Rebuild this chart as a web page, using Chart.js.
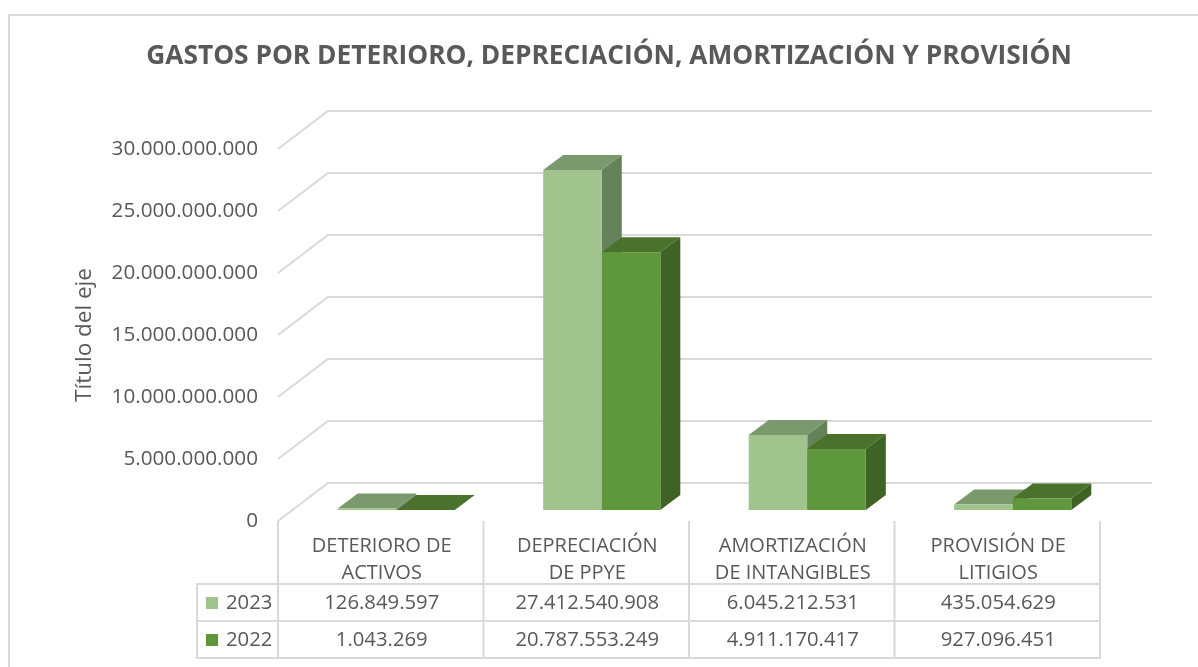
<!DOCTYPE html>
<html><head><meta charset="utf-8">
<style>html,body{margin:0;padding:0;background:#fff}#w{width:1198px;height:667px}</style>
<script src="https://cdn.jsdelivr.net/npm/chart.js@4"></script>
</head><body><div id="w"><canvas id="c" width="1198" height="667"></canvas></div>
<script>
const chartTitle = 'GASTOS POR DETERIORO, DEPRECIACIÓN, AMORTIZACIÓN Y PROVISIÓN';
const axisTitle = 'Título del eje';
const categories = [['DETERIORO DE','ACTIVOS'],['DEPRECIACIÓN','DE PPYE'],['AMORTIZACIÓN','DE INTANGIBLES'],['PROVISIÓN DE','LITIGIOS']];
const seriesNames = ['2023','2022'];
const values2023 = [126849597, 27412540908, 6045212531, 435054629];
const values2022 = [1043269, 20787553249, 4911170417, 927096451];
const FONT = '"Open Sans"';
const TXT = '#595959', GRID = '#d9d9d9';
const fmt = v => String(Math.round(v)).replace(/\B(?=(\d{3})+(?!\d))/g, '.');
const depth = {dx:20, dy:15};
const shift = {x:14.5, y:-11};
const wall = {dx:49, dy:38, right:1152};
const table = {left:197, rows:[584,621,658], top:521, rowMid:[603,640], swatch:[206,12], label:226};
const faces = [
  {front:'#a1c48f', top:'#7a9a6e', side:'#66825a'},
  {front:'#5f983c', top:'#4a722c', side:'#3f6325'}
];
function poly(ctx, pts, color){
  ctx.fillStyle = color; ctx.beginPath();
  pts.forEach((p,i)=> i?ctx.lineTo(p[0],p[1]):ctx.moveTo(p[0],p[1]));
  ctx.closePath(); ctx.fill();
}
const scene = {
  id:'scene',
  afterLayout(chart){ chart.titleBlock.left = 20; chart.titleBlock.right = 1198; },
  beforeDraw(chart){
    const c = chart.ctx; c.save();
    c.fillStyle='#fff'; c.fillRect(0,0,chart.width,chart.height);
    c.strokeStyle=GRID; c.lineWidth=2; c.beginPath();
    c.moveTo(9,667); c.lineTo(9,15); c.lineTo(1198,15); c.stroke();
    c.restore();
  },
  beforeDatasetsDraw(chart){
    const c = chart.ctx, y = chart.scales.y, l = chart.chartArea.left;
    c.save(); c.strokeStyle=GRID; c.lineWidth=2; c.beginPath();
    y.ticks.forEach(t=>{
      const py = y.getPixelForValue(t.value);
      c.moveTo(l-1,py); c.lineTo(l+wall.dx,py-wall.dy); c.lineTo(wall.right,py-wall.dy);
    });
    c.stroke(); c.restore();
    // the 2023 bars are painted first so the 2022 bars overlap them, as in a 3-D clustered column
    c.save(); c.translate(shift.x, shift.y);
    chart.data.datasets.forEach((d,k)=>{
      const f = faces[k], bars = chart.getDatasetMeta(k).data;
      bars.forEach(b=>{
        const L=b.x-b.width/2, R=b.x+b.width/2, T=b.y, B=b.base;
        poly(c,[[L,T],[L+depth.dx,T-depth.dy],[R+depth.dx,T-depth.dy],[R,T]],f.top);
        poly(c,[[R,T],[R+depth.dx,T-depth.dy],[R+depth.dx,B-depth.dy],[R,B]],f.side);
        b.draw(c);
      });
    });
    c.restore();
  },
  beforeDatasetDraw(){ return false; },
  afterDraw(chart){
    const c = chart.ctx, x = chart.scales.x, a = chart.chartArea;
    const step = x.getPixelForValue(1)-x.getPixelForValue(0);
    c.save(); c.strokeStyle=GRID; c.lineWidth=2; c.beginPath();
    for(let i=0;i<=categories.length;i++){ const px=a.left-1+i*step; c.moveTo(px,table.top); c.lineTo(px,table.rows[2]); }
    c.moveTo(table.left,table.rows[0]); c.lineTo(table.left,table.rows[2]);
    table.rows.forEach(r=>{ c.moveTo(table.left-1,r); c.lineTo(a.left+categories.length*step,r); });
    c.stroke();
    c.font='20.3px '+FONT; c.fillStyle=TXT; c.textBaseline='middle';
    chart.data.datasets.forEach((d,k)=>{
      const my = table.rowMid[k];
      c.fillStyle=faces[k].front; c.fillRect(table.swatch[0],my-6,table.swatch[1],table.swatch[1]);
      c.fillStyle=TXT; c.textAlign='left'; c.fillText(d.label,table.label,my);
      c.textAlign='center';
      d.data.forEach((v,i)=> c.fillText(fmt(v), x.getPixelForValue(i), my));
    });
    c.restore();
  }
};
new Chart(document.getElementById('c'),{
  type:'bar',
  data:{labels:categories,datasets:[
    {label:seriesNames[0],data:values2023,backgroundColor:faces[0].front,categoryPercentage:0.57,barPercentage:1},
    {label:seriesNames[1],data:values2022,backgroundColor:faces[1].front,categoryPercentage:0.57,barPercentage:1}
  ]},
  plugins:[scene],
  options:{
    responsive:false,animation:false,
    layout:{padding:{top:41,left:71,right:97,bottom:0}},
    plugins:{
      legend:{display:false},tooltip:{enabled:false},
      title:{display:true,text:chartTitle,color:TXT,font:{family:FONT,size:26.3,weight:'bold',lineHeight:1.2},padding:{top:0,bottom:76.4}}
    },
    scales:{
      x:{grid:{display:false},border:{display:false},
        afterFit(s){s.height=146;},
        ticks:{color:TXT,font:{family:FONT,size:20,lineHeight:1.35},padding:3.3,maxRotation:0,autoSkip:false}},
      y:{min:0,max:30000000000,grid:{display:false},border:{display:false},
        afterFit(s){s.width=279-71;},
        title:{display:true,text:axisTitle,color:TXT,font:{family:FONT,size:22.5},padding:0},
        ticks:{stepSize:5000000000,color:TXT,font:{family:FONT,size:20.7},padding:13,callback:v=>fmt(v)}}
    }
  }
});
</script></body></html>
